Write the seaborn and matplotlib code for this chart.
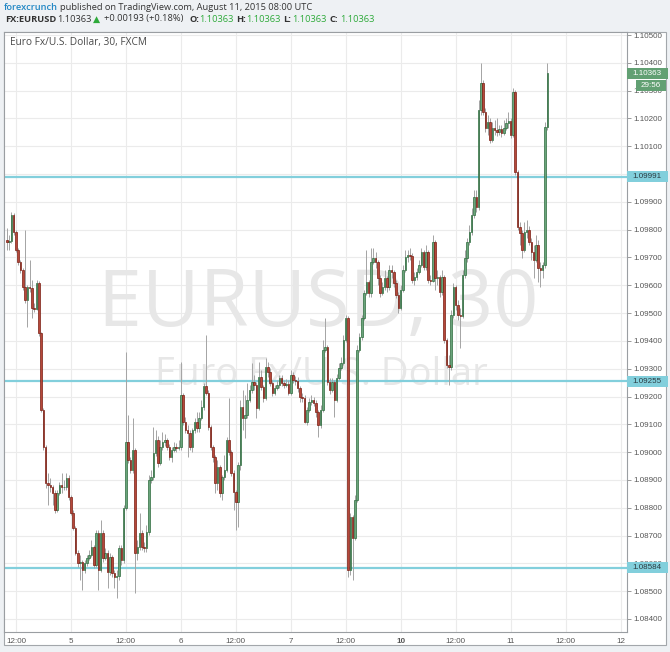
import numpy as np
import pandas as pd
import matplotlib
matplotlib.use("Agg")
import matplotlib.pyplot as plt
from matplotlib.patches import Rectangle
import seaborn as sns

sns.set_theme(style="white")
plt.rcParams["font.family"] = ["Open Sans", "DejaVu Sans"]

# 30 minute EUR/USD bars, Aug 4 10:00 -> Aug 11 08:00 (weekend gap removed)
first_open = 1.09762

closes = [
    1.09755, 1.09759, 1.09852, 1.09791, 1.09726, 1.09683, 1.09654, 1.09593, 1.09547, 1.09593,
    1.09590, 1.09518, 1.09515, 1.09608, 1.09428, 1.09151, 1.09018, 1.08889, 1.08882, 1.08874,
    1.08853, 1.08792, 1.08853, 1.08882, 1.08874, 1.08876, 1.08907, 1.08839, 1.08781, 1.08727,
    1.08637, 1.08601, 1.08603, 1.08576, 1.08601, 1.08619, 1.08630, 1.08659, 1.08594, 1.08709,
    1.08576, 1.08709, 1.08619, 1.08637, 1.08569, 1.08623, 1.08565, 1.08551, 1.08553, 1.08655,
    1.08612, 1.08799, 1.09036, 1.08972, 1.08936, 1.09007, 1.08637, 1.08659, 1.08709, 1.08659,
    1.08655, 1.08713, 1.08900, 1.08910, 1.08997, 1.09043, 1.08961, 1.09018, 1.09036, 1.09043,
    1.09018, 1.08982, 1.09007, 1.09018, 1.09015, 1.09020, 1.09205, 1.09108, 1.09079, 1.09069,
    1.09018, 1.09079, 1.09108, 1.09087, 1.09123, 1.09162, 1.09238, 1.09212, 1.09090, 1.09018,
    1.08982, 1.08889, 1.08946, 1.08853, 1.08910, 1.08936, 1.09043, 1.09000, 1.08925, 1.08857,
    1.08821, 1.08954, 1.09162, 1.09123, 1.09133, 1.09187, 1.09223, 1.09252, 1.09241, 1.09158,
    1.09270, 1.09234, 1.09194, 1.09306, 1.09288, 1.09248, 1.09212, 1.09230, 1.09241, 1.09266,
    1.09248, 1.09241, 1.09246, 1.09212, 1.09277, 1.09259, 1.09257, 1.09230, 1.09198, 1.09196,
    1.09108, 1.09151, 1.09180, 1.09187, 1.09176, 1.09144, 1.09097, 1.09151, 1.09367, 1.09378,
    1.09252, 1.09223, 1.09252, 1.09187, 1.09266, 1.09302, 1.09320, 1.09403, 1.09482, 1.08576,
    1.08767, 1.08691, 1.08828, 1.09367, 1.09414, 1.09482, 1.09572, 1.09611, 1.09572, 1.09683,
    1.09698, 1.09683, 1.09626, 1.09572, 1.09593, 1.09626, 1.09593, 1.09654, 1.09647, 1.09608,
    1.09565, 1.09518, 1.09583, 1.09654, 1.09701, 1.09708, 1.09706, 1.09619, 1.09629, 1.09647,
    1.09672, 1.09719, 1.09665, 1.09719, 1.09619, 1.09617, 1.09755, 1.09626, 1.09629, 1.09575,
    1.09629, 1.09403, 1.09313, 1.09306, 1.09493, 1.09593, 1.09529, 1.09493, 1.09491, 1.09637,
    1.09698, 1.09755, 1.09791, 1.09852, 1.09917, 1.09881, 1.10230, 1.10327, 1.10222, 1.10165,
    1.10186, 1.10122, 1.10165, 1.10158, 1.10151, 1.10161, 1.10147, 1.10165, 1.10183, 1.10190,
    1.10140, 1.10294, 1.10007, 1.09809, 1.09787, 1.09726, 1.09791, 1.09798, 1.09755, 1.09719,
    1.09690, 1.09744, 1.09662, 1.09654, 1.09672, 1.10169, 1.10363,
]

highs = [
    1.09806, 1.09780, 1.09863, 1.09859, 1.09798, 1.09734, 1.09690, 1.09662, 1.09798, 1.09601,
    1.09690, 1.09619, 1.09536, 1.09619, 1.09615, 1.09432, 1.09158, 1.09025, 1.08925, 1.08907,
    1.08882, 1.08864, 1.08864, 1.08893, 1.08925, 1.08900, 1.08925, 1.08918, 1.08846, 1.08792,
    1.08734, 1.08648, 1.08630, 1.08612, 1.08612, 1.08630, 1.08648, 1.08684, 1.08666, 1.08720,
    1.08720, 1.08756, 1.08720, 1.08655, 1.08648, 1.08637, 1.08630, 1.08576, 1.08576, 1.08666,
    1.08666, 1.08810, 1.09360, 1.09133, 1.08982, 1.09123, 1.09015, 1.08684, 1.08781, 1.08720,
    1.08677, 1.08738, 1.08918, 1.08936, 1.09090, 1.09079, 1.09058, 1.09043, 1.09072, 1.09065,
    1.09051, 1.09029, 1.09018, 1.09036, 1.09033, 1.09043, 1.09324, 1.09212, 1.09126, 1.09097,
    1.09079, 1.09087, 1.09123, 1.09144, 1.09144, 1.09187, 1.09248, 1.09421, 1.09223, 1.09097,
    1.09025, 1.08990, 1.08972, 1.08954, 1.08918, 1.08990, 1.09054, 1.09194, 1.09007, 1.08936,
    1.08864, 1.08964, 1.09187, 1.09223, 1.09205, 1.09248, 1.09241, 1.09320, 1.09277, 1.09252,
    1.09324, 1.09295, 1.09241, 1.09338, 1.09324, 1.09302, 1.09259, 1.09241, 1.09259, 1.09277,
    1.09277, 1.09259, 1.09263, 1.09259, 1.09295, 1.09288, 1.09274, 1.09270, 1.09238, 1.09212,
    1.09205, 1.09162, 1.09194, 1.09205, 1.09198, 1.09187, 1.09151, 1.09169, 1.09403, 1.09482,
    1.09385, 1.09266, 1.09266, 1.09259, 1.09281, 1.09320, 1.09342, 1.09421, 1.09493, 1.09489,
    1.08781, 1.08774, 1.08846, 1.09385, 1.09428, 1.09493, 1.09583, 1.09726, 1.09619, 1.09734,
    1.09734, 1.09719, 1.09690, 1.09637, 1.09611, 1.09654, 1.09633, 1.09672, 1.09672, 1.09654,
    1.09619, 1.09575, 1.09601, 1.09672, 1.09726, 1.09726, 1.09734, 1.09716, 1.09647, 1.09662,
    1.09690, 1.09734, 1.09726, 1.09744, 1.09726, 1.09637, 1.09780, 1.09762, 1.09654, 1.09637,
    1.09654, 1.09637, 1.09410, 1.09349, 1.09511, 1.09608, 1.09601, 1.09547, 1.09518, 1.09654,
    1.09726, 1.09770, 1.09816, 1.09877, 1.09942, 1.09942, 1.10266, 1.10399, 1.10338, 1.10237,
    1.10212, 1.10201, 1.10186, 1.10194, 1.10201, 1.10176, 1.10176, 1.10194, 1.10201, 1.10222,
    1.10201, 1.10309, 1.10302, 1.10014, 1.09827, 1.09798, 1.09827, 1.09834, 1.09813, 1.09770,
    1.09744, 1.09780, 1.09762, 1.09683, 1.09683, 1.10186, 1.10399,
]

lows = [
    1.09726, 1.09726, 1.09752, 1.09780, 1.09719, 1.09672, 1.09644, 1.09583, 1.09536, 1.09450,
    1.09575, 1.09482, 1.09504, 1.09511, 1.09417, 1.09144, 1.09007, 1.08871, 1.08810, 1.08857,
    1.08810, 1.08781, 1.08785, 1.08846, 1.08853, 1.08864, 1.08864, 1.08828, 1.08774, 1.08720,
    1.08630, 1.08587, 1.08540, 1.08504, 1.08565, 1.08591, 1.08612, 1.08623, 1.08583, 1.08587,
    1.08504, 1.08569, 1.08605, 1.08612, 1.08511, 1.08558, 1.08551, 1.08511, 1.08475, 1.08540,
    1.08594, 1.08601, 1.08792, 1.08961, 1.08925, 1.08925, 1.08493, 1.08612, 1.08648, 1.08648,
    1.08641, 1.08641, 1.08702, 1.08889, 1.08900, 1.08986, 1.08946, 1.08954, 1.09007, 1.09022,
    1.09007, 1.08972, 1.08964, 1.09000, 1.09000, 1.09007, 1.09007, 1.09097, 1.09069, 1.08982,
    1.09007, 1.09000, 1.09069, 1.09072, 1.09072, 1.09115, 1.09151, 1.09205, 1.09079, 1.09007,
    1.08964, 1.08853, 1.08864, 1.08839, 1.08828, 1.08900, 1.08928, 1.08990, 1.08914, 1.08792,
    1.08720, 1.08731, 1.08936, 1.09079, 1.09051, 1.09123, 1.09180, 1.09212, 1.09223, 1.09123,
    1.09151, 1.09223, 1.09180, 1.09187, 1.09270, 1.09238, 1.09202, 1.09205, 1.09223, 1.09230,
    1.09238, 1.09230, 1.09234, 1.09205, 1.09205, 1.09248, 1.09241, 1.09216, 1.09180, 1.09180,
    1.09105, 1.09097, 1.09144, 1.09169, 1.09166, 1.09126, 1.09054, 1.09087, 1.09144, 1.09360,
    1.09241, 1.09209, 1.09216, 1.09126, 1.09180, 1.09259, 1.09295, 1.09313, 1.09396, 1.08551,
    1.08558, 1.08540, 1.08684, 1.08821, 1.09360, 1.09403, 1.09475, 1.09565, 1.09558, 1.09558,
    1.09676, 1.09662, 1.09601, 1.09558, 1.09565, 1.09583, 1.09575, 1.09583, 1.09626, 1.09593,
    1.09554, 1.09500, 1.09511, 1.09575, 1.09647, 1.09683, 1.09690, 1.09608, 1.09601, 1.09619,
    1.09640, 1.09665, 1.09654, 1.09654, 1.09608, 1.09601, 1.09611, 1.09583, 1.09601, 1.09558,
    1.09565, 1.09392, 1.09302, 1.09241, 1.09295, 1.09482, 1.09511, 1.09475, 1.09374, 1.09482,
    1.09626, 1.09683, 1.09744, 1.09780, 1.09842, 1.09863, 1.09870, 1.10212, 1.10212, 1.10151,
    1.10140, 1.10111, 1.10115, 1.10140, 1.10136, 1.10140, 1.10133, 1.10140, 1.10158, 1.10165,
    1.10129, 1.10133, 1.09996, 1.09798, 1.09744, 1.09698, 1.09719, 1.09770, 1.09744, 1.09690,
    1.09626, 1.09683, 1.09611, 1.09593, 1.09626, 1.09662, 1.10158,
]

tick_bars = [4, 28, 52, 76, 100, 124, 148, 172, 196, 220, 244, 268]
tick_labels = ["12:00", "5", "12:00", "6", "12:00", "7", "12:00", "10", "12:00", "11", "12:00", "12"]
levels = [1.09991, 1.09255, 1.08584]
last_price = 1.10363
countdown = "29:56"

df = pd.DataFrame({"close": closes, "high": highs, "low": lows})
df["open"] = [first_open] + closes[:-1]
df["bar"] = np.arange(len(df))
df["up"] = df["close"] >= df["open"]

W, H = 670, 652
fig = plt.figure(figsize=(W / 100, H / 100), dpi=100, facecolor="#eef1f4")
fig.patches.append(Rectangle((4 / W, 1 - 645 / H), 662 / W, 613 / H, transform=fig.transFigure,
                             facecolor="white", edgecolor="#a3a7ab", lw=0.8, zorder=-10))
ax = fig.add_axes([4 / W, 1 - 632 / H, 623 / W, 600 / H])
ax.set_zorder(1)
ax.set_facecolor("white")
ax.set_axisbelow(True)

# watermark
ax.text(0.504, 0.545, "EURUSD, 30", transform=ax.transAxes, ha="center", va="center",
        fontsize=57, color="#e7e7e7", zorder=0.6)
ax.text(0.510, 0.428, "Euro Fx/U.S. Dollar", transform=ax.transAxes, ha="center", va="center",
        fontsize=27.5, color="#e7e7e7", zorder=0.6)
ax.text(0.01, 0.982, "Euro Fx/U.S. Dollar, 30, FXCM", transform=ax.transAxes, ha="left",
        va="center", fontsize=7.3, color="#4a4a4a", zorder=5)

for lvl in levels:
    ax.axhline(lvl, color="#82cfdc", lw=1.6, zorder=1.5)

up = df[df["up"]]
dn = df[~df["up"]]
ax.vlines(df["bar"], df["low"], df["high"], color="#a4a4a4", lw=0.7, zorder=2)
ax.bar(up["bar"], up["close"] - up["open"], bottom=up["open"], width=0.66,
       color="#6aa47b", edgecolor="#2d6b3d", linewidth=0.5, zorder=2.5)
ax.bar(dn["bar"], dn["close"] - dn["open"], bottom=dn["open"], width=0.66,
       color="#b5483a", edgecolor="#7a1d12", linewidth=0.5, zorder=2.5)

ax.set_xlim(-1.2, 270.8)
ax.set_ylim(1.08353, 1.10511)

yt = np.round(np.arange(1.084, 1.1051, 0.001), 3)
ax.set_yticks(yt)
ax.set_yticklabels([f"{v:.5f}" for v in yt])
ax.yaxis.tick_right()
ax.set_xticks(tick_bars)
ax.set_xticklabels(tick_labels)
for lab in ax.get_xticklabels():
    if lab.get_text() == "10":
        lab.set_fontweight("bold")
ax.tick_params(axis="both", which="major", direction="out", length=3, width=0.6,
               color="#8a8a8a", labelsize=5.8, labelcolor="#555555", pad=1.5)
for lab in ax.get_xticklabels() + ax.get_yticklabels():
    lab.set_family(["Liberation Sans", "DejaVu Sans"])
ax.grid(True, color="#ebebeb", lw=0.8)
for s in ax.spines.values():
    s.set_color("#9a9ea2")
    s.set_linewidth(0.8)

# price labels on the right scale
ytr = ax.get_yaxis_transform()
for lvl in levels:
    ax.add_patch(Rectangle((1.0, lvl - 0.0002), 41 / 623, 0.0004, transform=ytr,
                           facecolor="#82cfdc", edgecolor="none", clip_on=False, zorder=6))
    ax.text(1.009, lvl, f"{lvl:.5f}", transform=ytr, ha="left", va="center", fontsize=5.8,
            color="#2b3a40", family=["Liberation Sans", "DejaVu Sans"], clip_on=False, zorder=7)
ax.add_patch(Rectangle((1.0, last_price - 0.0002), 41 / 623, 0.0004, transform=ytr,
                       facecolor="#62a073", edgecolor="none", clip_on=False, zorder=6))
ax.text(1.009, last_price, f"{last_price:.5f}", transform=ytr, ha="left", va="center",
        fontsize=5.8, color="white", family=["Liberation Sans", "DejaVu Sans"], clip_on=False, zorder=7)
ax.add_patch(Rectangle((1.0145, last_price - 0.00066), 30 / 623, 0.00042, transform=ytr,
                       facecolor="#62a073", edgecolor="none", clip_on=False, zorder=6))
ax.text(1.022, last_price - 0.00045, countdown, transform=ytr, ha="left", va="center",
        fontsize=5.8, color="white", family=["Liberation Sans", "DejaVu Sans"], clip_on=False, zorder=7)

# header
def ftext(xp, yp, s, color="#333333", weight="normal"):
    fig.text(xp / W, 1 - yp / H, s, color=color, fontsize=6.7, fontweight=weight,
             ha="left", va="center")

green = "#2eaa3a"
ftext(4, 7, "forexcrunch", color="#1f86c4", weight="semibold")
ftext(60, 7, "published on TradingView.com, August 11, 2015 08:00 UTC")
ftext(5, 19, "FX:EURUSD", weight="bold")
ftext(57, 19, "1.10363")
ftext(93, 19, "▲", color=green)
ftext(104, 19, "+0.00193 (+0.18%)")
for xl, xv, k in [(189, 199, "O:"), (236, 246, "H:"), (283, 292, "L:"), (330, 340, "C:")]:
    ftext(xl, 19, k, weight="bold")
    ftext(xv, 19, "1.10363", color=green)

fig.savefig("out.png", dpi=100, facecolor=fig.get_facecolor())
